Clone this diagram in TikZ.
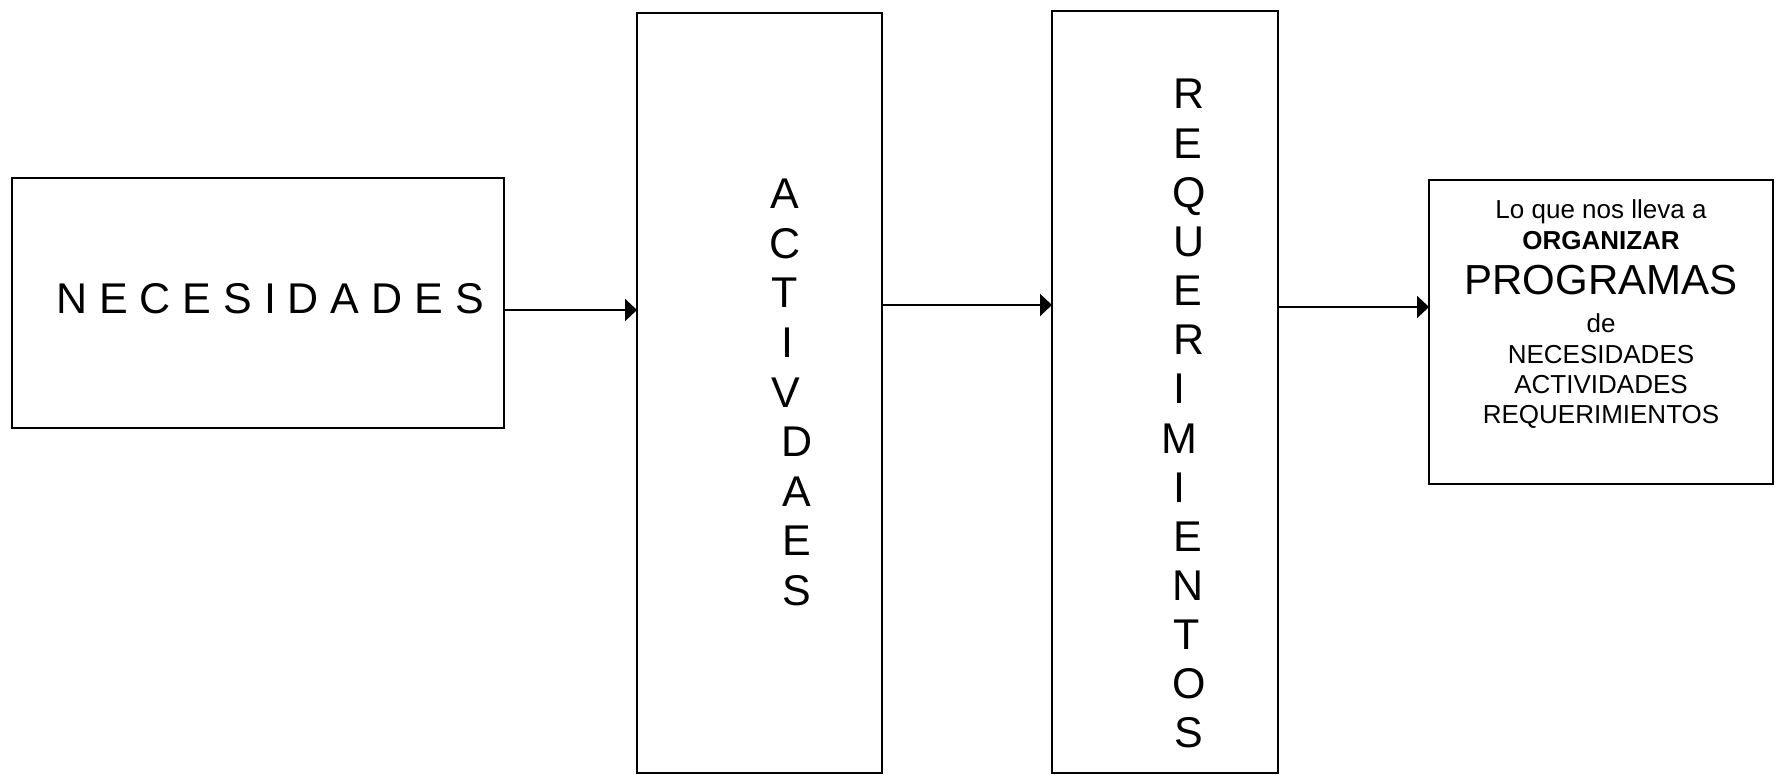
\documentclass[tikz,border=0pt]{standalone}
\usepackage{fontspec}
\setmainfont{Liberation Sans}
\usetikzlibrary{arrows.meta}

\begin{document}
\begin{tikzpicture}[x=1pt,y=-1pt,
  box/.style={draw=black, line width=2pt, inner sep=0pt, outer sep=0pt, rectangle},
  arr/.style={draw=black, line width=2pt, -{Triangle[length=12pt,width=22pt]}},
  big/.style={inner sep=0pt, anchor=base, font=\fontsize{43}{50}\selectfont},
  small/.style={inner sep=0pt, anchor=base, font=\fontsize{26}{30}\selectfont}]

  % page frame
  \fill[white] (0,0) rectangle (1779,775);
  \useasboundingbox (0,0) rectangle (1779,775);

  % the four boxes
  \node[box, minimum width=492pt, minimum height=250pt] (nec) at (258,303) {};
  \node[box, minimum width=245pt, minimum height=760pt] (act) at (759.5,393) {};
  \node[box, minimum width=226pt, minimum height=762pt] (req) at (1165,392) {};
  \node[box, minimum width=344pt, minimum height=304pt] (prog) at (1601,332) {};

  % first box label, letters spaced out
  \node[big] (necT) at (270,314) {N E C E S I D A D E S};

  % vertical letter column in the second box
  \foreach \ch/\xx [count=\i] in {A/785,C/785,T/785,I/787,V/786,D/797,A/797,E/797,S/797}
    \node[big] (act-\i) at (\xx,{209+49.5*(\i-1)}) {\ch};

  % vertical letter column in the third box
  \foreach \ch/\xx [count=\i] in {R/1189,E/1188,Q/1189,U/1189,E/1188,R/1189,I/1179,M/1179,I/1179,E/1188,N/1188,T/1187,O/1189,S/1189}
    \node[big] (req-\i) at (\xx,{109+49.15*(\i-1)}) {\ch};

  % text of the last box
  \node[small] (p1) at (1601,219) {Lo que nos lleva a};
  \node[small] (p2) at (1601,250) {\textbf{ORGANIZAR}};
  \node[inner sep=0pt, anchor=base, font=\fontsize{42}{48}\selectfont] (p3) at (1601,295) {PROGRAMAS};
  \node[small] (p4) at (1601,332) {de};
  \node[small] (p5) at (1601,363) {NECESIDADES};
  \node[small] (p6) at (1601,393) {ACTIVIDADES};
  \node[small] (p7) at (1601,423) {REQUERIMIENTOS};

  % connectors
  \draw[arr] ([yshift=-7pt]nec.east) -- ([yshift=-7pt]nec.east -| act.west);
  \draw[arr] ([yshift=-2pt]nec.east -| act.east) -- ([yshift=-2pt]nec.east -| req.west);
  \draw[arr] ([yshift=-4pt]nec.east -| req.east) -- ([yshift=-4pt]nec.east -| prog.west);
\end{tikzpicture}
\end{document}
